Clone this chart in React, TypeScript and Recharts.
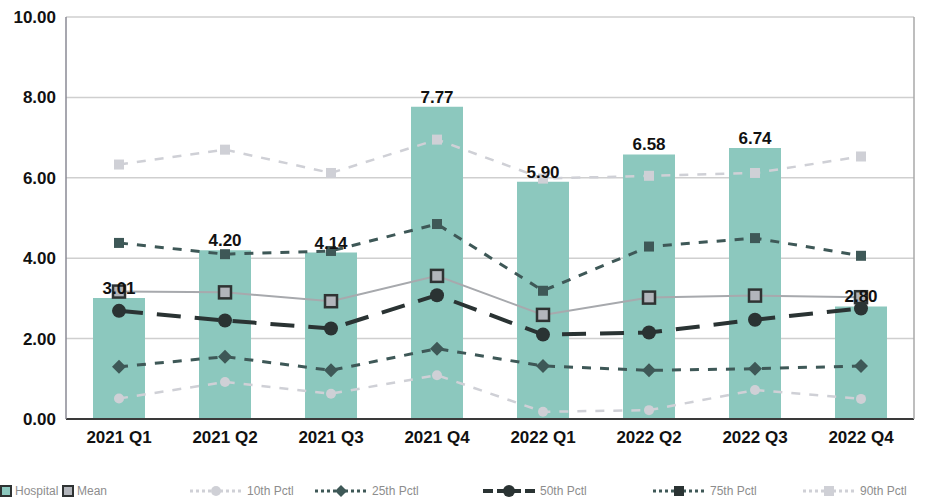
import React from 'react';
import { ComposedChart, Bar, Line, XAxis, YAxis, CartesianGrid, LabelList } from 'recharts';

const categories = ['2021 Q1', '2021 Q2', '2021 Q3', '2021 Q4', '2022 Q1', '2022 Q2', '2022 Q3', '2022 Q4'];
const hospital = [3.01, 4.2, 4.14, 7.77, 5.9, 6.58, 6.74, 2.8];
const mean = [3.17, 3.15, 2.93, 3.56, 2.59, 3.02, 3.07, 3.03];
const p10 = [0.51, 0.92, 0.63, 1.09, 0.18, 0.22, 0.72, 0.5];
const p25 = [1.3, 1.55, 1.21, 1.75, 1.32, 1.21, 1.25, 1.32];
const p50 = [2.69, 2.45, 2.25, 3.08, 2.1, 2.15, 2.47, 2.75];
const p75 = [4.38, 4.1, 4.18, 4.85, 3.19, 4.29, 4.5, 4.06];
const p90 = [6.33, 6.7, 6.12, 6.95, 5.98, 6.05, 6.12, 6.53];
const yTicks = [0, 2, 4, 6, 8, 10];

const data = categories.map((c, i) => ({
  cat: c,
  hospital: hospital[i],
  mean: mean[i],
  p10: p10[i],
  p25: p25[i],
  p50: p50[i],
  p75: p75[i],
  p90: p90[i],
}));

const BAR = '#8cc8be';
const DARK = '#3e5857';
const BLACK = '#2a3333';
const LIGHT = '#cfd0d6';
const MEANLINE = '#a7a9ad';
const FONT = '"Liberation Sans", Arial, sans-serif';

const sq = (fill: string, stroke: string, size: number, sw: number) => (p: any) => {
  if (p.cx == null || p.cy == null) return <g key={p.index} />;
  return <rect key={p.index} x={p.cx - size / 2} y={p.cy - size / 2} width={size} height={size} fill={fill} stroke={stroke} strokeWidth={sw} />;
};
const circ = (fill: string, r: number) => (p: any) => {
  if (p.cx == null || p.cy == null) return <g key={p.index} />;
  return <circle key={p.index} cx={p.cx} cy={p.cy} r={r} fill={fill} />;
};
const diamond = (fill: string, s: number) => (p: any) => {
  if (p.cx == null || p.cy == null) return <g key={p.index} />;
  const { cx, cy } = p;
  return <polygon key={p.index} points={`${cx},${cy - s} ${cx + s},${cy} ${cx},${cy + s} ${cx - s},${cy}`} fill={fill} />;
};

const LegendItem = ({ icon, label, width }: { icon: React.ReactNode; label: string; width: number }) => (
  <div style={{ display: 'flex', alignItems: 'center', marginRight: 0, width }}>
    {icon}
    <span style={{ marginLeft: 3 }}>{label}</span>
  </div>
);

const lineIcon = (color: string, dash: string, marker: React.ReactNode, w = 3) => (
  <svg width={56} height={14}>
    <line x1={2} y1={7} x2={54} y2={7} stroke={color} strokeWidth={w} strokeDasharray={dash} />
    {marker}
  </svg>
);

export default function App() {
  return (
    <div style={{ position: 'absolute', left: 0, top: 0, width: 942, height: 501, background: '#fff' }}>
      <ComposedChart
        width={942}
        height={471}
        data={data}
        margin={{ top: 17, right: 27, bottom: 0, left: 0 }}
        barCategoryGap={0}
      >
        <CartesianGrid horizontal vertical={false} stroke="#cfcfcf" strokeWidth={1.5} />
        <XAxis
          dataKey="cat"
          height={52}
          tickLine={false}
          axisLine={{ stroke: '#3a3a3a', strokeWidth: 2 }}
          tickMargin={6}
          interval={0}
          tick={{ fill: '#111', fontSize: 17, fontWeight: 700, fontFamily: FONT }}
        />
        <YAxis
          width={66}
          domain={[0, 10]}
          ticks={yTicks}
          interval={0}
          tickFormatter={(v: number) => v.toFixed(2)}
          tickLine={false}
          axisLine={{ stroke: '#8a8a95', strokeWidth: 1.5 }}
          tickMargin={4}
          tick={{ fill: '#111', fontSize: 17, fontWeight: 700, fontFamily: FONT }}
        />
        <YAxis yAxisId="r" orientation="right" width={1} domain={[0, 10]} tick={false} tickLine={false} axisLine={{ stroke: '#a8a8a8', strokeWidth: 1.5 }} />
        <Bar dataKey="hospital" fill={BAR} barSize={52} isAnimationActive={false}>
          <LabelList
            dataKey="hospital"
            position="top"
            offset={4}
            formatter={(v: number) => v.toFixed(2)}
            style={{ fill: '#111', fontSize: 17, fontWeight: 700, fontFamily: FONT }}
          />
        </Bar>
        <Line dataKey="p90" stroke={LIGHT} strokeWidth={2.5} strokeDasharray="9 9" dot={sq(LIGHT, LIGHT, 10, 0)} activeDot={false} isAnimationActive={false} />
        <Line dataKey="p10" stroke={LIGHT} strokeWidth={2.5} strokeDasharray="9 9" dot={circ(LIGHT, 5)} activeDot={false} isAnimationActive={false} />
        <Line dataKey="p75" stroke={DARK} strokeWidth={3} strokeDasharray="9 9" dot={sq(DARK, DARK, 10, 0)} activeDot={false} isAnimationActive={false} />
        <Line dataKey="p25" stroke={DARK} strokeWidth={3} strokeDasharray="9 9" dot={diamond(DARK, 7)} activeDot={false} isAnimationActive={false} />
        <Line dataKey="mean" stroke={MEANLINE} strokeWidth={2} dot={sq('#b2b5bb', '#2f3333', 12, 2.5)} activeDot={false} isAnimationActive={false} />
        <Line dataKey="p50" stroke={BLACK} strokeWidth={4} strokeDasharray="24 14" dot={circ(BLACK, 7)} activeDot={false} isAnimationActive={false} />
      </ComposedChart>
      <div
        style={{
          position: 'absolute',
          left: 0,
          top: 484,
          display: 'flex',
          alignItems: 'center',
          fontFamily: FONT,
          fontSize: 12,
          color: '#8d8d8d',
          whiteSpace: 'nowrap',
        }}
      >
        <LegendItem
          width={62}
          label="Hospital"
          icon={<svg width={12} height={12}><rect x={1} y={1} width={10} height={10} fill={BAR} stroke="#2f3333" strokeWidth={2} /></svg>}
        />
        <LegendItem
          width={126}
          label="Mean"
          icon={<svg width={12} height={12}><rect x={1} y={1} width={10} height={10} fill="#b2b5bb" stroke="#2f3333" strokeWidth={2} /></svg>}
        />
        <LegendItem width={125} label="10th Pctl" icon={lineIcon(LIGHT, '3 3', <circle cx={28} cy={7} r={5} fill={LIGHT} />)} />
        <LegendItem width={168} label="25th Pctl" icon={lineIcon(DARK, '3 3', <polygon points="28,1 34,7 28,13 22,7" fill={DARK} />)} />
        <LegendItem width={170} label="50th Pctl" icon={lineIcon(BLACK, '10 4', <circle cx={28} cy={7} r={6} fill={BLACK} />, 4)} />
        <LegendItem width={150} label="75th Pctl" icon={lineIcon(DARK, '3 3', <rect x={23} y={2} width={10} height={10} fill={BLACK} />)} />
        <LegendItem width={120} label="90th Pctl" icon={lineIcon(LIGHT, '3 3', <rect x={23} y={2} width={10} height={10} fill={LIGHT} />)} />
      </div>
    </div>
  );
}
